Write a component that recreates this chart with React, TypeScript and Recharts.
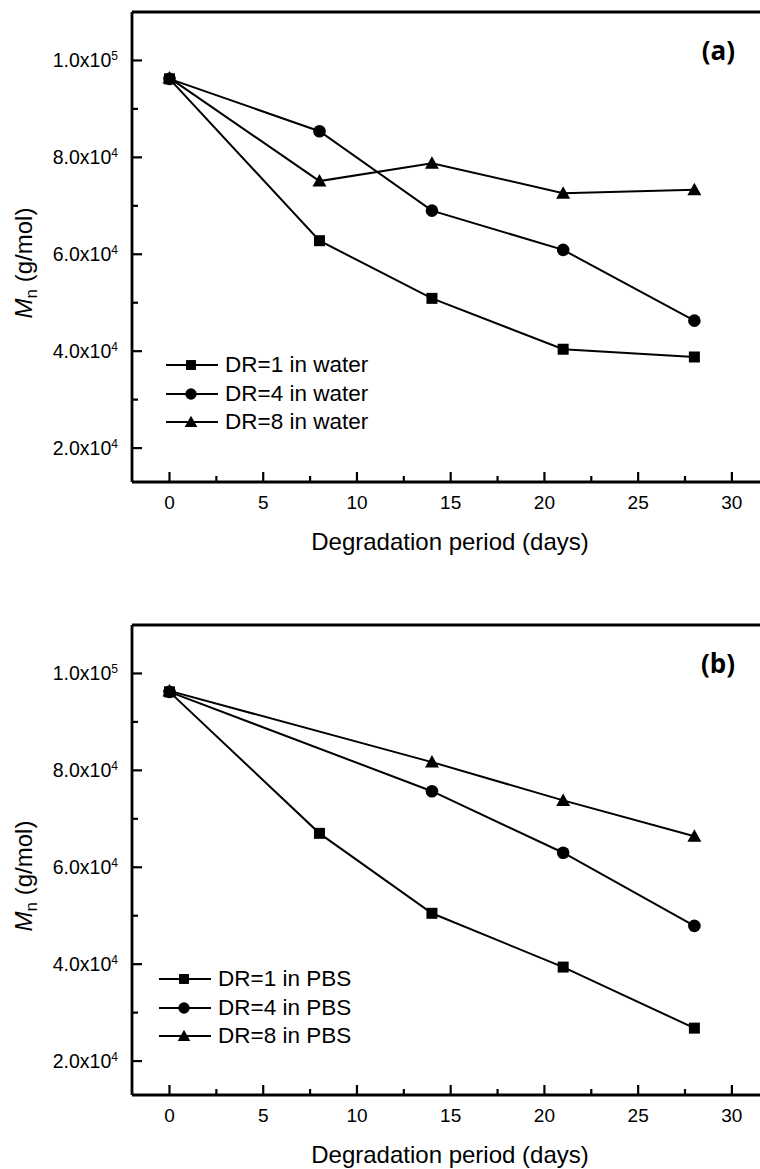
import { LineChart, Line, XAxis, YAxis, Legend, Label, ReferenceLine } from "recharts";

const FONT = '"Liberation Sans", Arial, Helvetica, sans-serif';

// degradation days
const daysAll = [0, 8, 14, 21, 28];
const daysNo8 = [0, 14, 21, 28];

// (a) in water, Mn in g/mol
const dr1Water = [96200, 62800, 50900, 40400, 38800];
const dr4Water = [96200, 85400, 69000, 60900, 46300];
const dr8Water = [96400, 75100, 78800, 72600, 73300];

// (b) in PBS
const dr1Pbs = [96200, 67000, 50500, 39400, 26800];
const dr4Pbs = [96200, 75700, 63000, 47900];
const dr8Pbs = [96400, 81700, 73800, 66400];

const waterNames = ["DR=1 in water", "DR=4 in water", "DR=8 in water"];
const pbsNames = ["DR=1 in PBS", "DR=4 in PBS", "DR=8 in PBS"];

const xTicks = [0, 2.5, 5, 7.5, 10, 12.5, 15, 17.5, 20, 22.5, 25, 27.5, 30];
const xMajor = [0, 5, 10, 15, 20, 25, 30];
const yTicks = [20000, 30000, 40000, 50000, 60000, 70000, 80000, 90000, 100000];
const yMajor = [20000, 40000, 60000, 80000, 100000];
const yMantissa = ["2.0", "4.0", "6.0", "8.0", "1.0"];
const yExponent = ["4", "4", "4", "4", "5"];

type Shape = "square" | "circle" | "triangle";
const shapes: Shape[] = ["square", "circle", "triangle"];

const toPoints = (days: number[], vals: number[]) =>
  days.map((d, i) => ({ day: d, mn: vals[i] }));

function Marker({ shape, cx, cy, s = 1 }: { shape: Shape; cx: number; cy: number; s?: number }) {
  if (shape === "square")
    return <rect x={cx - 5.5 * s} y={cy - 5.5 * s} width={11 * s} height={11 * s} fill="#000" />;
  if (shape === "circle") return <circle cx={cx} cy={cy} r={6.3 * s} fill="#000" />;
  return (
    <polygon
      points={`${cx},${cy - 7 * s} ${cx - 7 * s},${cy + 5.5 * s} ${cx + 7 * s},${cy + 5.5 * s}`}
      fill="#000"
    />
  );
}

function XTick(props: any) {
  const { x, y, payload } = props;
  const major = xMajor.includes(payload.value);
  return (
    <g>
      <line x1={x} x2={x} y1={y} y2={y - (major ? 10 : 6)} stroke="#000" strokeWidth={2.2} />
      {major && (
        <text x={x} y={y + 27} textAnchor="middle" fontSize={19} fontFamily={FONT} fill="#000">
          {payload.value}
        </text>
      )}
    </g>
  );
}

function YTick(props: any) {
  const { x, y, payload } = props;
  const idx = yMajor.indexOf(payload.value);
  return (
    <g>
      <line x1={x} x2={x + (idx >= 0 ? 10 : 6)} y1={y} y2={y} stroke="#000" strokeWidth={2.2} />
      {idx >= 0 && (
        <text x={x - 14} y={y + 7} textAnchor="end" fontSize={19.5} fontFamily={FONT} fill="#000">
          {yMantissa[idx]}x10
          <tspan fontSize={12} dy={-7}>
            {yExponent[idx]}
          </tspan>
        </text>
      )}
    </g>
  );
}

type Series = { name: string; shape: Shape; data: { day: number; mn: number }[] };

function Panel({
  series,
  tag,
  height,
  top,
  xAxisHeight,
  legendLeft,
  legendTop,
}: {
  series: Series[];
  tag: string;
  height: number;
  top: number;
  xAxisHeight: number;
  legendLeft: number;
  legendTop: number;
}) {
  const order = series.map((s) => s.name);
  return (
    <LineChart width={760} height={height} margin={{ top, right: 0, bottom: 0, left: 0 }}>
      <XAxis
        dataKey="day"
        type="number"
        domain={[-2, 31.5]}
        ticks={xTicks}
        interval={0}
        allowDataOverflow
        height={xAxisHeight}
        tickSize={0}
        tickMargin={0}
        tickLine={false}
        stroke="#000"
        strokeWidth={2.8}
        axisLine={{ stroke: "#000", strokeWidth: 2.8 }}
        tick={<XTick />}
      >
        <Label
          content={(p: any) => (
            <text
              x={p.viewBox.x + p.viewBox.width / 2 + 4}
              y={p.viewBox.y + 68}
              textAnchor="middle"
              fontSize={24}
              fontFamily={FONT}
              fill="#000"
            >
              Degradation period (days)
            </text>
          )}
        />
      </XAxis>
      <YAxis
        type="number"
        domain={[13000, 110000]}
        ticks={yTicks}
        interval={0}
        allowDataOverflow
        width={132}
        tickSize={0}
        tickMargin={0}
        tickLine={false}
        stroke="#000"
        strokeWidth={2.8}
        axisLine={{ stroke: "#000", strokeWidth: 2.8 }}
        tick={<YTick />}
      >
        <Label
          content={(p: any) => {
            const cx = 32;
            const cy = p.viewBox.y + p.viewBox.height / 2 + 16;
            return (
              <text
                x={cx}
                y={cy}
                transform={`rotate(-90, ${cx}, ${cy})`}
                textAnchor="middle"
                fontSize={24}
                fontFamily={FONT}
                fill="#000"
              >
                <tspan fontStyle="italic">M</tspan>
                <tspan fontSize={17} dy={5}>
                  n
                </tspan>
                <tspan dy={-5}> (g/mol)</tspan>
              </text>
            );
          }}
        />
      </YAxis>
      <ReferenceLine
        y={110000}
        stroke="#000"
        strokeWidth={3}
        label={(p: any) => (
          <text
            x={p.viewBox.x + p.viewBox.width - 25}
            y={p.viewBox.y + 48}
            textAnchor="end"
            fontSize={26}
            fontWeight={700}
            fontFamily='"Open Sans", "Noto Sans", sans-serif'
            fill="#000"
          >
            {tag}
          </text>
        )}
      />
      <Legend
        layout="vertical"
        align="center"
        verticalAlign="middle"
        wrapperStyle={{ left: legendLeft, top: legendTop, width: 240, height: 90 }}
        content={(p: any) => {
          const items = [...(p.payload || [])].sort(
            (a: any, b: any) => order.indexOf(a.value) - order.indexOf(b.value)
          );
          return (
            <div>
              {items.map((it: any) => {
                const shape = series[order.indexOf(it.value)]?.shape ?? "square";
                return (
                  <div
                    key={it.value}
                    style={{ display: "flex", alignItems: "center", height: 28.5 }}
                  >
                    <svg width={54} height={28} style={{ display: "block" }}>
                      <line x1={0} x2={52} y1={14} y2={14} stroke="#000" strokeWidth={2} />
                      <Marker shape={shape} cx={25} cy={14} s={0.9} />
                    </svg>
                    <span
                      style={{
                        marginLeft: 5,
                        fontSize: 22.5,
                        fontFamily: FONT,
                        color: "#000",
                        lineHeight: "28px",
                        whiteSpace: "nowrap",
                      }}
                    >
                      {it.value}
                    </span>
                  </div>
                );
              })}
            </div>
          );
        }}
      />
      {series.map((s) => (
        <Line
          key={s.name}
          name={s.name}
          data={s.data}
          dataKey="mn"
          stroke="#000"
          strokeWidth={2}
          isAnimationActive={false}
          legendType="line"
          dot={(p: any) => (
            <Marker key={`${s.name}-${p.index}`} shape={s.shape} cx={p.cx} cy={p.cy} />
          )}
          activeDot={false}
        />
      ))}
    </LineChart>
  );
}

const waterSeries: Series[] = [
  { name: waterNames[0], shape: shapes[0], data: toPoints(daysAll, dr1Water) },
  { name: waterNames[1], shape: shapes[1], data: toPoints(daysAll, dr4Water) },
  { name: waterNames[2], shape: shapes[2], data: toPoints(daysAll, dr8Water) },
];

const pbsSeries: Series[] = [
  { name: pbsNames[0], shape: shapes[0], data: toPoints(daysAll, dr1Pbs) },
  { name: pbsNames[1], shape: shapes[1], data: toPoints(daysNo8, dr4Pbs) },
  { name: pbsNames[2], shape: shapes[2], data: toPoints(daysNo8, dr8Pbs) },
];

export default function App() {
  return (
    <div style={{ position: "absolute", left: 0, top: 0, width: 760, height: 1169, background: "#fff" }}>
      <Panel
        series={waterSeries}
        tag="(a)"
        height={585}
        top={12}
        xAxisHeight={103}
        legendLeft={166}
        legendTop={351}
      />
      <Panel
        series={pbsSeries}
        tag="(b)"
        height={584}
        top={40}
        xAxisHeight={74}
        legendLeft={159}
        legendTop={380}
      />
    </div>
  );
}
